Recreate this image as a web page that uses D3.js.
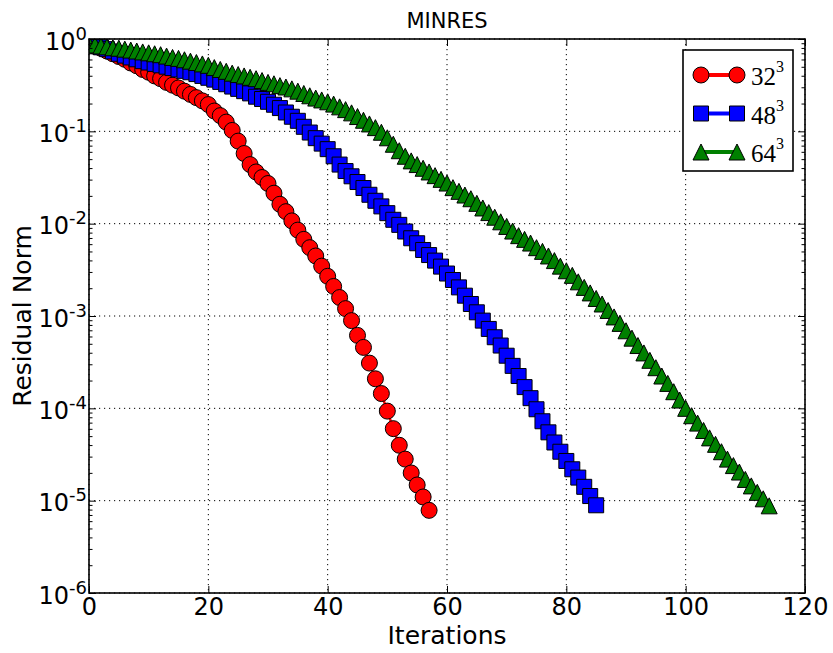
<!DOCTYPE html>
<html>
<head>
<meta charset="utf-8">
<script src="https://cdn.jsdelivr.net/npm/d3@7"></script>
<style>
  body { margin: 0; background: #fff; }
  text { font-family: "DejaVu Sans", sans-serif; }
</style>
</head>
<body>
<svg id="chart" width="833" height="653"></svg>
<script>
// residual norms, stored as log10(residual), one per iteration (0..n)
const res32 = [-0.06,-0.08,-0.10,-0.13,-0.16,-0.19,-0.22,-0.26,-0.29,-0.33,
  -0.36,-0.40,-0.43,-0.47,-0.50,-0.53,-0.565,-0.60,-0.635,-0.67,
  -0.71,-0.78,-0.83,-0.90,-0.99,-1.106,-1.24,-1.36,-1.44,-1.50,
  -1.565,-1.67,-1.79,-1.87,-1.97,-2.07,-2.17,-2.26,-2.35,-2.46,
  -2.57,-2.68,-2.80,-2.92,-3.05,-3.21,-3.34,-3.51,-3.68,-3.84,
  -4.03,-4.22,-4.40,-4.55,-4.70,-4.83,-4.96,-5.105];
const res48 = [-0.05,-0.07,-0.09,-0.11,-0.135,-0.16,-0.18,-0.20,-0.22,-0.24,
  -0.255,-0.27,-0.285,-0.30,-0.315,-0.33,-0.345,-0.36,-0.38,-0.40,
  -0.42,-0.44,-0.465,-0.49,-0.515,-0.54,-0.565,-0.589,-0.625,-0.65,
  -0.68,-0.712,-0.748,-0.796,-0.842,-0.886,-0.951,-1.013,-1.074,-1.133,
  -1.193,-1.27,-1.36,-1.43,-1.487,-1.549,-1.614,-1.687,-1.752,-1.813,
  -1.886,-1.958,-2.013,-2.085,-2.158,-2.212,-2.285,-2.34,-2.40,-2.465,
  -2.54,-2.61,-2.69,-2.78,-2.87,-2.96,-3.05,-3.14,-3.23,-3.32,
  -3.43,-3.54,-3.65,-3.77,-3.89,-4.01,-4.14,-4.26,-4.37,-4.47,
  -4.57,-4.66,-4.75,-4.85,-4.95,-5.05];
const res64 = [-0.055,-0.065,-0.075,-0.085,-0.095,-0.10,-0.11,-0.12,-0.13,-0.14,
  -0.15,-0.16,-0.17,-0.185,-0.20,-0.21,-0.225,-0.24,-0.255,-0.27,
  -0.285,-0.31,-0.33,-0.35,-0.37,-0.385,-0.40,-0.415,-0.43,-0.45,
  -0.47,-0.485,-0.505,-0.52,-0.54,-0.565,-0.59,-0.615,-0.64,-0.66,
  -0.68,-0.705,-0.735,-0.765,-0.80,-0.84,-0.88,-0.92,-0.96,-1.01,
  -1.07,-1.14,-1.21,-1.27,-1.32,-1.36,-1.40,-1.44,-1.48,-1.52,
  -1.56,-1.61,-1.65,-1.69,-1.73,-1.78,-1.83,-1.88,-1.93,-1.98,
  -2.03,-2.08,-2.13,-2.17,-2.21,-2.26,-2.30,-2.35,-2.40,-2.46,
  -2.51,-2.56,-2.63,-2.69,-2.75,-2.81,-2.87,-2.94,-3.01,-3.08,
  -3.16,-3.24,-3.32,-3.40,-3.48,-3.56,-3.65,-3.73,-3.82,-3.91,
  -4.00,-4.08,-4.16,-4.24,-4.32,-4.39,-4.47,-4.55,-4.62,-4.69,
  -4.77,-4.84,-4.91,-4.98,-5.056];

const seriesNames = ["32", "48", "64"];
const xTicks = [0, 20, 40, 60, 80, 100, 120];
const yTicks = [1e-6, 1e-5, 1e-4, 1e-3, 1e-2, 1e-1, 1];
const yExp = ["-6", "-5", "-4", "-3", "-2", "-1", "0"];

const series = [
  { name: seriesNames[0], vals: res32, color: "#ff0000", shape: "circle" },
  { name: seriesNames[1], vals: res48, color: "#0000ff", shape: "square" },
  { name: seriesNames[2], vals: res64, color: "#008000", shape: "triangle" }
];

const width = 833, height = 653;
const margin = { top: 39, left: 89, right: 28, bottom: 60 };
const iwidth = width - margin.left - margin.right;
const iheight = height - margin.top - margin.bottom;

const svg = d3.select("#chart");
const g = svg.append("g").attr("transform", `translate(${margin.left},${margin.top})`);

const x = d3.scaleLinear().domain([0, 120]).range([0, iwidth]);
const y = d3.scaleLog().domain([1e-6, 1]).range([iheight, 0]);

// dotted grid
g.append("g").selectAll("line").data(xTicks).join("line")
  .attr("x1", d => x(d)).attr("x2", d => x(d)).attr("y1", 0).attr("y2", iheight)
  .attr("stroke", "#000").attr("stroke-width", 1).attr("stroke-dasharray", "1.2,3.8");
g.append("g").selectAll("line").data(yTicks).join("line")
  .attr("y1", d => y(d)).attr("y2", d => y(d)).attr("x1", 0).attr("x2", iwidth)
  .attr("stroke", "#000").attr("stroke-width", 1).attr("stroke-dasharray", "1.2,3.8");

svg.append("defs").append("clipPath").attr("id", "clip")
  .append("rect").attr("width", iwidth).attr("height", iheight);

const sym = {
  circle: d3.symbol().type(d3.symbolCircle).size(Math.PI * 8 * 8),
  square: d3.symbol().type(d3.symbolSquare).size(15 * 15)
};
function markerPath(shape) {
  if (shape === "triangle") return "M0,-8L8,8L-8,8Z";
  return sym[shape]();
}

const plot = g.append("g").attr("clip-path", "url(#clip)");
const line = d3.line().x((d, i) => x(i)).y(d => y(Math.pow(10, d)));

series.forEach(s => {
  plot.append("path").datum(s.vals)
    .attr("d", line).attr("fill", "none")
    .attr("stroke", s.color).attr("stroke-width", 2.5);
  plot.append("g").selectAll("path").data(s.vals).join("path")
    .attr("transform", (d, i) => `translate(${x(i)},${y(Math.pow(10, d))})`)
    .attr("d", markerPath(s.shape))
    .attr("fill", s.color).attr("stroke", "#000").attr("stroke-width", 1);
});

// axes: ticks pointing inward, like the matplotlib classic style
const fontSize = 24;
const gx = g.append("g").attr("transform", `translate(0,${iheight})`)
  .call(d3.axisBottom(x).tickValues(xTicks).tickSizeInner(-7).tickSizeOuter(0).tickPadding(5));
gx.selectAll("text").attr("font-size", fontSize).attr("fill", "#000")
  .style("font-family", "DejaVu Sans");
g.append("g")
  .call(d3.axisTop(x).tickValues(xTicks).tickSizeInner(-7).tickSizeOuter(0).tickFormat(""));

const gy = g.append("g")
  .call(d3.axisLeft(y).tickValues(yTicks).tickSizeInner(-7).tickSizeOuter(0).tickPadding(2).tickFormat(""));
gy.selectAll(".tick text").each(function (d, i) {
  const t = d3.select(this).attr("dy", "0.42em").attr("fill", "#000")
    .attr("font-size", fontSize).style("font-family", "DejaVu Sans");
  t.append("tspan").text("10");
  t.append("tspan").attr("dy", -10).attr("font-size", 18).text(yExp[i]);
});
g.append("g").attr("transform", `translate(${iwidth},0)`)
  .call(d3.axisRight(y).tickValues(yTicks).tickSizeInner(-7).tickSizeOuter(0).tickFormat(""));

// minor log ticks
const minor = [];
for (let e = -6; e < 0; e++) for (let m = 2; m <= 9; m++) minor.push(m * Math.pow(10, e));
g.append("g").call(d3.axisLeft(y).tickValues(minor).tickSizeInner(-3.5).tickSizeOuter(0).tickFormat(""));
g.append("g").attr("transform", `translate(${iwidth},0)`)
  .call(d3.axisRight(y).tickValues(minor).tickSizeInner(-3.5).tickSizeOuter(0).tickFormat(""));
g.selectAll(".domain").remove();
g.selectAll(".tick line").attr("stroke", "#000").attr("stroke-width", 1);

g.append("rect").attr("width", iwidth).attr("height", iheight)
  .attr("fill", "none").attr("stroke", "#000").attr("stroke-width", 1.6);

// titles
svg.append("text").attr("x", margin.left + iwidth / 2).attr("y", 28)
  .attr("text-anchor", "middle").attr("font-size", 21).text("MINRES");
svg.append("text").attr("x", margin.left + iwidth / 2).attr("y", 644)
  .attr("text-anchor", "middle").attr("font-size", 25).text("Iterations");
svg.append("text").attr("transform", `translate(31,${margin.top + iheight / 2}) rotate(-90)`)
  .attr("text-anchor", "middle").attr("font-size", 25).text("Residual Norm");

// legend
const lg = svg.append("g").attr("transform", "translate(683,50)");
lg.append("rect").attr("width", 110).attr("height", 121)
  .attr("fill", "#fff").attr("stroke", "#000").attr("stroke-width", 1.6);
series.forEach((s, k) => {
  const row = lg.append("g").attr("transform", `translate(0,${25 + k * 38.5})`);
  row.append("line").attr("x1", 18).attr("x2", 54)
    .attr("stroke", s.color).attr("stroke-width", 4);
  [18, 54].forEach(px => row.append("path").attr("transform", `translate(${px},0)`)
    .attr("d", markerPath(s.shape)).attr("fill", s.color)
    .attr("stroke", "#000").attr("stroke-width", 1));
  const t = row.append("text").attr("x", 68).attr("y", 10)
    .style("font-family", "Liberation Serif, serif").attr("font-size", 25);
  t.append("tspan").text(s.name);
  t.append("tspan").attr("dy", -13).attr("font-size", 16).text("3");
});
</script>
</body>
</html>
